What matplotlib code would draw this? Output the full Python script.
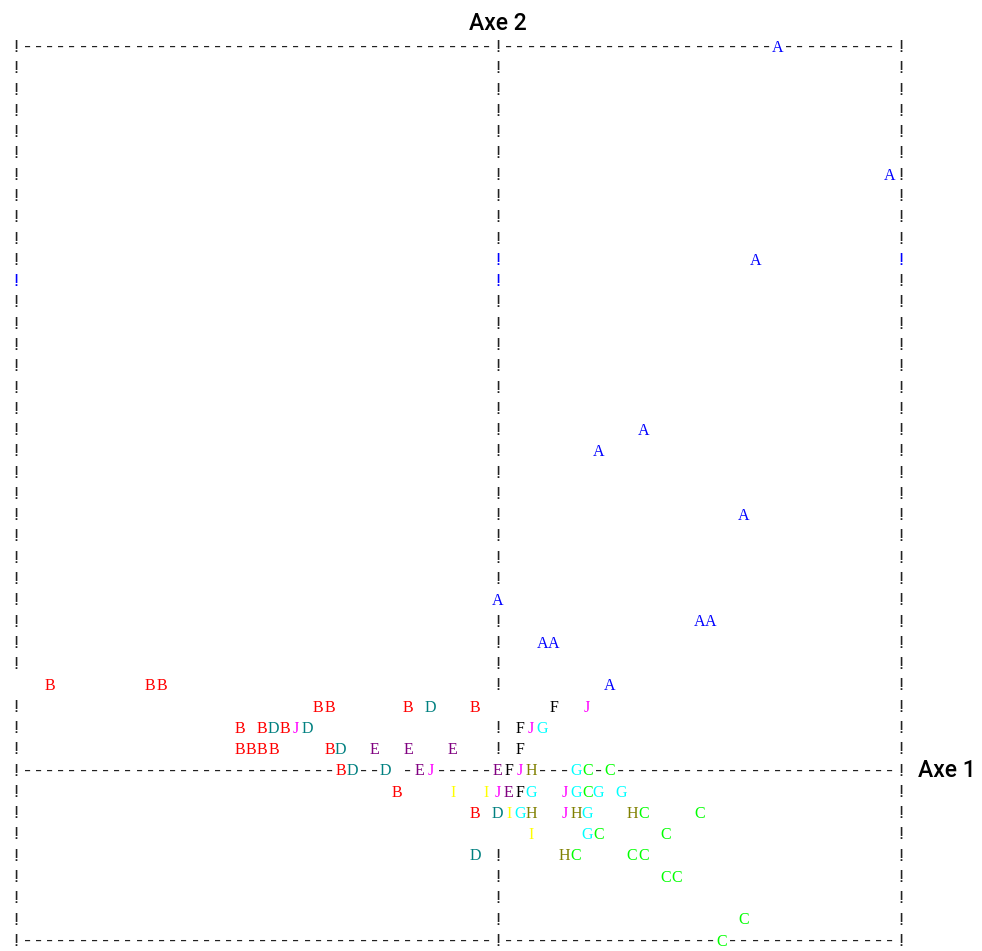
import matplotlib
matplotlib.use("Agg")
import matplotlib.pyplot as plt

# grid of the line-printer style plot: columns x rows of characters
n_cols = 80
n_rows = 43
mid_col = 43
axis_row = 34

# plotted observations, listed row by row: row index, symbols, columns
row_ids = [0, 6, 10, 18, 19, 22, 26, 27, 28, 30, 31, 32, 33, 34, 35, 36,
           37, 38, 39, 41, 42]
row_symbols = ["A", "A", "A", "A", "A", "A", "A", "AA", "AA", "BBBA",
               "BBBDBFJ", "BBDBJDFJG", "BBBBBDEEEF", "BDDEJEFJHGCC",
               "BIIJEFGJGCGG", "BDIGHJHGHCC", "IGCC", "DHCCC", "CC", "C", "C"]
row_cols = [[68], [78], [66], [56], [52], [65], [43], [61, 62], [47, 48],
            [3, 12, 13, 53],
            [27, 28, 35, 37, 41, 48, 51],
            [20, 22, 23, 24, 25, 26, 45, 46, 47],
            [20, 21, 22, 23, 28, 29, 32, 35, 39, 45],
            [29, 30, 33, 36, 37, 43, 44, 45, 46, 50, 51, 53],
            [34, 39, 42, 43, 44, 45, 46, 49, 50, 51, 52, 54],
            [41, 43, 44, 45, 46, 49, 50, 51, 55, 56, 61],
            [46, 51, 52, 58],
            [41, 49, 50, 55, 56],
            [58, 59],
            [65],
            [63]]

symbol_colors = {
    "A": "#0000ff", "B": "#ff0000", "C": "#00ff00", "D": "#008080",
    "E": "#800080", "F": "#000000", "G": "#00ffff", "H": "#808000",
    "I": "#ffff00", "J": "#ff00ff",
}

# frame cells that are left blank or printed in blue
blank_cells = [(0, 30), (43, 31), (43, 37), (34, 34)]
blue_cells = [(43, 10), (79, 10), (0, 11), (43, 11)]

frame_color = "#222222"

# build the character grid
grid = {}
for r in range(n_rows):
    for c in (0, mid_col, n_cols - 1):
        grid[(c, r)] = ("!", frame_color)
for r in (0, axis_row, n_rows - 1):
    for c in range(1, n_cols - 1):
        if c != mid_col or r == axis_row:
            grid[(c, r)] = ("-", frame_color)
for cell in blue_cells:
    grid[cell] = ("!", symbol_colors["A"])
for cell in blank_cells:
    grid.pop(cell, None)
for r, syms, cs in zip(row_ids, row_symbols, row_cols):
    for s, c in zip(syms, cs):
        grid[(c, r)] = (s, symbol_colors[s])

fig = plt.figure(figsize=(9.82, 9.51), dpi=100)
ax = fig.add_axes([0, 0, 1, 1])
col_w = 11.2
row_h = 21.28
x0, y0 = 16.0, 46.5
ax.set_xlim(-x0 / col_w, (982 - x0) / col_w)
ax.set_ylim((951 - y0) / row_h, -y0 / row_h)
ax.axis("off")

# monospace size whose advance equals one column
mono_size = col_w / 0.6 * 72 / 100

for (c, r), (ch, color) in sorted(grid.items(), key=lambda kv: (kv[0][1], kv[0][0])):
    if ch in "!-":
        ax.text(c, r + 0.26, ch, color=color, family="Liberation Mono",
                fontsize=mono_size, ha="center", va="baseline")
    else:
        ax.text(c, r + 0.25, ch, color=color, family="Liberation Serif",
                fontsize=11.5, ha="center", va="baseline")

ax.text(mid_col, -1.06, "Axe 2", family="Roboto", weight="medium",
        fontsize=16.5, ha="center", va="center")
ax.text(80.5, axis_row, "Axe 1", family="Roboto", weight="medium",
        fontsize=16.5, ha="left", va="center")

fig.savefig("out.png", dpi=100)
